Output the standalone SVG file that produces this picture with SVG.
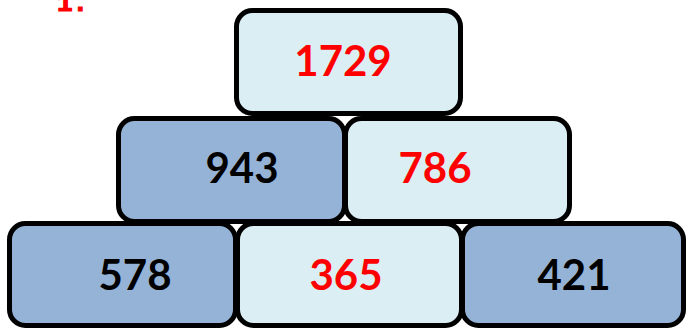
<svg xmlns="http://www.w3.org/2000/svg" width="686" height="329" viewBox="0 0 686 329">
<style>
.box{stroke:#000;stroke-width:5}
.light{fill:#DBEEF3}
.dark{fill:#95B3D7}
.num{font-family:Lato,"Open Sans",sans-serif;font-weight:bold;font-size:42px;text-anchor:middle}
.red{fill:#FF0000}
.blk{fill:#000}
</style>
<rect width="686" height="329" fill="#fff"/>
<text x="57" y="11" font-family="'Liberation Mono',monospace" font-weight="bold" font-size="26" fill="#FF0000" stroke="#FF0000" stroke-width="1.2">1.</text>
<g id="n1729"><rect class="box light" x="236.5" y="10.5" width="224" height="103" rx="16"/><text class="num red" x="343" y="76">1729</text></g>
<g id="n943"><rect class="box dark" x="118.5" y="118.5" width="226" height="103" rx="16"/><text class="num blk" x="242" y="183">943</text></g>
<g id="n786"><rect class="box light" x="345.5" y="118.5" width="224" height="103" rx="16"/><text class="num red" x="435" y="183">786</text></g>
<g id="n578"><rect class="box dark" x="9.5" y="223.5" width="226" height="102" rx="16"/><text class="num blk" x="135" y="290">578</text></g>
<g id="n365"><rect class="box light" x="237.5" y="223.5" width="224" height="102" rx="16"/><text class="num red" x="346" y="290">365</text></g>
<g id="n421"><rect class="box dark" x="462.5" y="223.5" width="221" height="102" rx="16"/><text class="num blk" x="574" y="290">421</text></g>
<g id="connectors"></g>
</svg>
